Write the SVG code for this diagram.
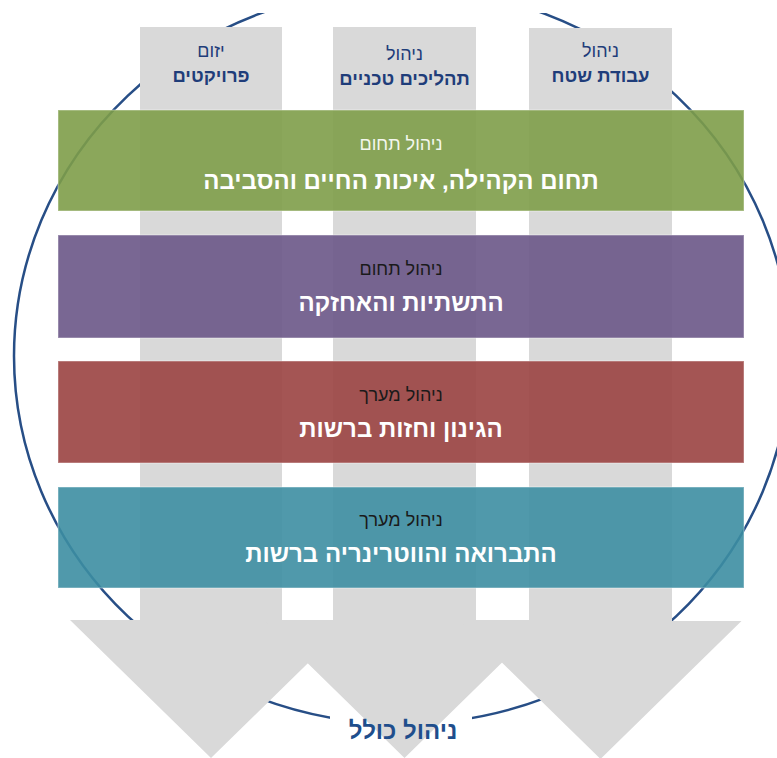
<svg xmlns="http://www.w3.org/2000/svg" width="777" height="758" viewBox="0 0 777 758">
<style>
text{font-family:"Liberation Sans","DejaVu Sans",Arial,sans-serif;text-anchor:middle;direction:rtl}
.col{fill:#d9d9d9}
.ct1{font-size:18px;fill:#1f3d7a}
.ct2{font-size:18.5px;font-weight:bold;fill:#1f3d7a}
.band{fill-opacity:0.9;stroke:#ffffff;stroke-opacity:0.3;stroke-width:1.5}
.bt1{font-size:18px;fill:#1a1a1a}
.bt2{font-size:24px;font-weight:bold;fill:#ffffff}
</style>
<defs>
<clipPath id="topclip"><rect x="0" y="13" width="777" height="745"/></clipPath>
</defs>
<rect width="777" height="758" fill="#ffffff"/>
<g id="connectors">
<ellipse cx="402" cy="356" rx="388" ry="368" fill="none" stroke="#274e86" stroke-width="2.5" clip-path="url(#topclip)"/>
<rect x="330" y="705" width="142" height="42" fill="#ffffff"/>
</g>
<g id="col-projects">
<path class="col" d="M140,27 H282 V620 H352 L211,758 L70,620 H140 Z"/>
<text class="ct1" x="211" y="56.5">יזום</text>
<text class="ct2" x="211" y="81.5">פרויקטים</text>
</g>
<g id="col-technical">
<path class="col" d="M333,27 H476 V620 H545.5 L404.5,758 L263.5,620 H333 Z"/>
<text class="ct1" x="404.5" y="59.5">ניהול</text>
<text class="ct2" x="404.5" y="84.5">תהליכים טכניים</text>
</g>
<g id="col-field">
<path class="col" d="M529,28 H672 V621 H741.5 L600.5,759 L459.5,621 H529 Z"/>
<text class="ct1" x="600.5" y="56.5">ניהול</text>
<text class="ct2" x="600.5" y="81.5">עבודת שטח</text>
</g>
<g id="band-community">
<rect class="band" x="58" y="110" width="686" height="101" fill="#7e9d49"/>
<text class="bt1" x="401" y="149.5" style="fill:#f4f7ee">ניהול תחום</text>
<text class="bt2" x="401" y="188.5">תחום הקהילה, איכות החיים והסביבה</text>
</g>
<g id="band-infrastructure">
<rect class="band" x="58" y="235" width="686" height="103" fill="#6a5787"/>
<text class="bt1" x="401" y="274.5">ניהול תחום</text>
<text class="bt2" x="401" y="310.5">התשתיות והאחזקה</text>
</g>
<g id="band-gardening">
<rect class="band" x="58" y="361" width="686" height="102" fill="#9a4341"/>
<text class="bt1" x="401" y="400.5">ניהול מערך</text>
<text class="bt2" x="401" y="436.5">הגינון וחזות ברשות</text>
</g>
<g id="band-sanitation">
<rect class="band" x="58" y="487" width="686" height="101" fill="#3d8ea2"/>
<text class="bt1" x="401" y="525.5">ניהול מערך</text>
<text class="bt2" x="401" y="561.5">התברואה והווטרינריה ברשות</text>
</g>
<g id="label-general">
<text x="403" y="738.5" style="font-size:24px;font-weight:bold;fill:#1f4e8c">ניהול כולל</text>
</g>
</svg>
